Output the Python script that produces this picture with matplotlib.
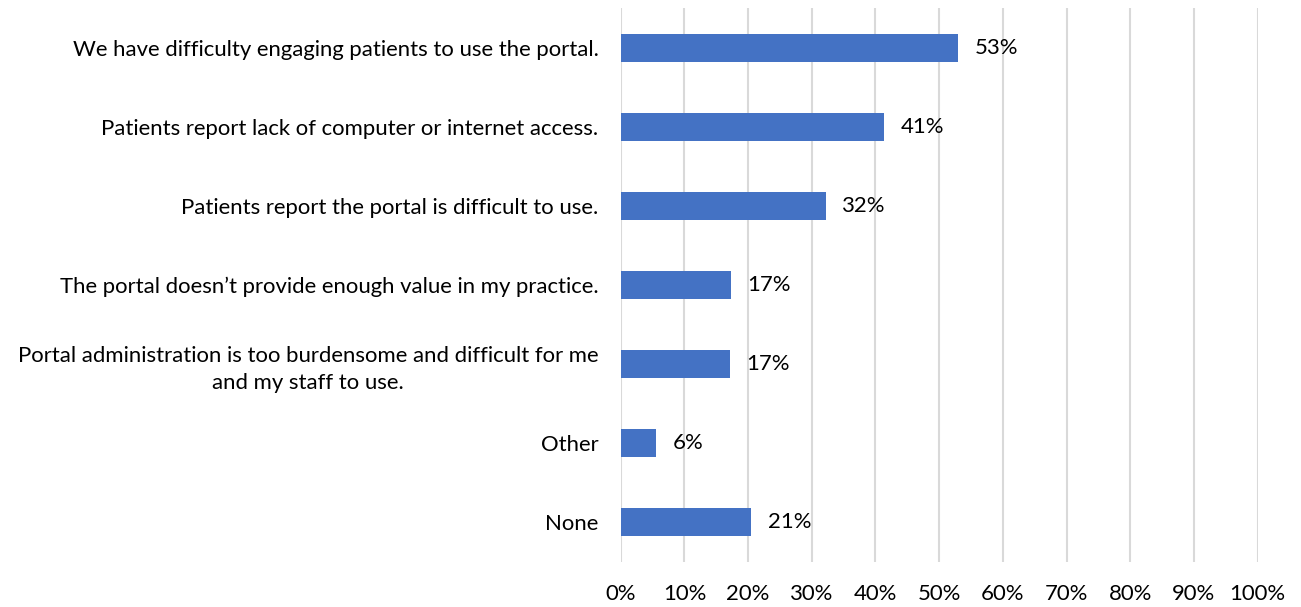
import matplotlib
matplotlib.use("Agg")
import matplotlib.pyplot as plt
from matplotlib.ticker import MultipleLocator, FuncFormatter

categories = [
    "We have difficulty engaging patients to use the portal.",
    "Patients report lack of computer or internet access.",
    "Patients report the portal is difficult to use.",
    "The portal doesn\u2019t provide enough value in my practice.",
    "Portal administration is too burdensome and difficult for me\nand my staff to use.",
    "Other",
    "None",
]
values = [52.9, 41.3, 32.2, 17.3, 17.1, 5.5, 20.5]
value_labels = ["53%", "41%", "32%", "17%", "17%", "6%", "21%"]

plt.rcParams['font.family'] = ['Lato', 'DejaVu Sans']
fs = 15.9

fig = plt.figure(figsize=(13.01, 6.07), dpi=100)
ax = fig.add_axes([0.4771, 0.0746, 0.9667 - 0.4771, 0.9863 - 0.0746])

ypos = list(range(len(categories)))
ax.barh(ypos, values, height=0.35, color="#4472C4", zorder=3)
ax.set_ylim(len(categories) - 0.5, -0.5)
ax.set_xlim(0, 100)
ax.xaxis.set_major_locator(MultipleLocator(10))
ax.xaxis.set_major_formatter(FuncFormatter(lambda v, p: f"{int(round(v))}%"))
ax.grid(axis='x', color="#D9D9D9", linewidth=1.5, zorder=0)
for s in ax.spines.values():
    s.set_visible(False)
ax.tick_params(axis='both', length=0, labelsize=fs, colors="black")
ax.tick_params(axis='x', pad=16)
ax.tick_params(axis='y', pad=16)
ax.set_yticks(ypos)
ax.set_yticklabels(categories, multialignment='center', linespacing=1.45)

for y, v, lab in zip(ypos, values, value_labels):
    ax.annotate(lab, xy=(v, y), xytext=(12, 0), textcoords='offset points',
                ha='left', va='center', fontsize=fs, color="black")

fig.savefig("out.png", dpi=100)
